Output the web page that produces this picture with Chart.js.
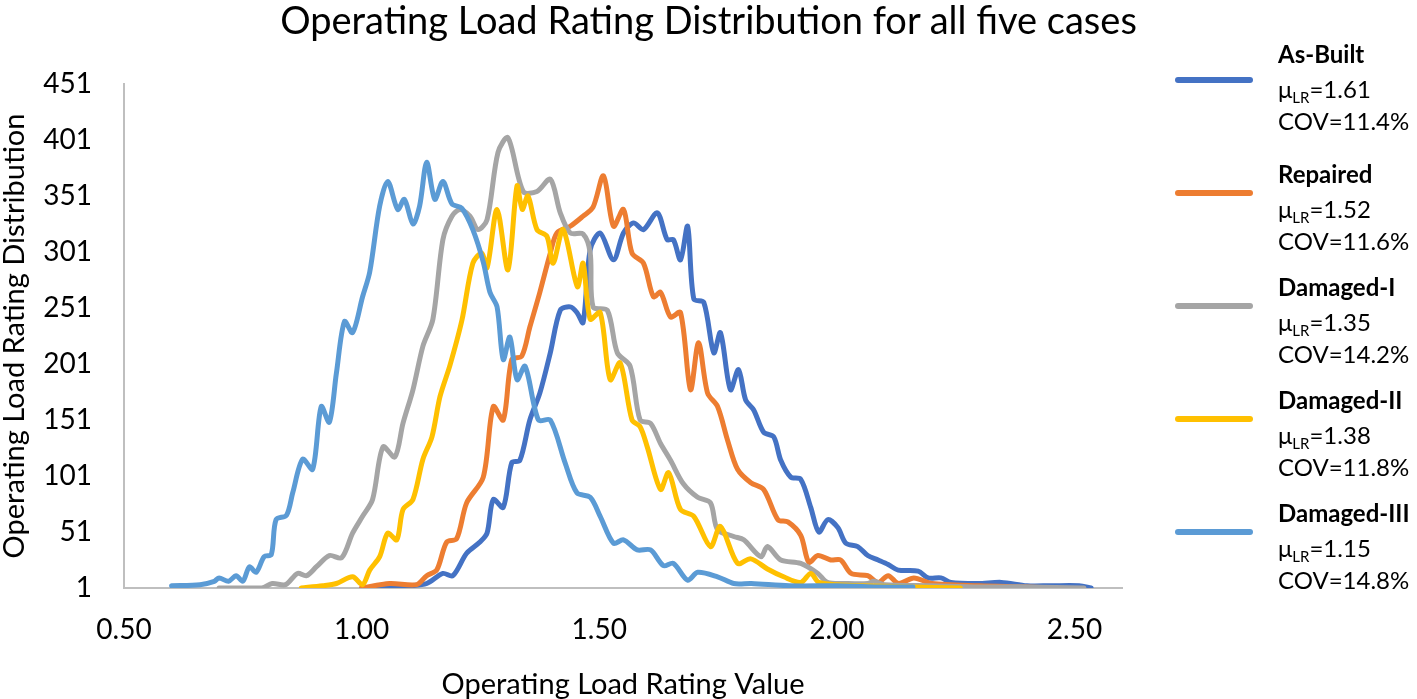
<!DOCTYPE html>
<html><head><meta charset="utf-8">
<script src="https://cdn.jsdelivr.net/npm/chart.js@4.4.1/dist/chart.umd.min.js"></script>
<style>
html,body{margin:0;padding:0;background:#fff;}
#wrap{position:relative;width:1417px;height:699px;overflow:hidden;font-family:Lato,'Open Sans',sans-serif;color:#000;}
canvas{position:absolute;left:0;top:0;}
#title{position:absolute;left:0;width:1417px;top:-3px;text-align:center;font-size:38px;line-height:44px;white-space:nowrap;}
.lg{position:absolute;left:1175px;width:78px;height:6px;border-radius:3px;}
.lt{position:absolute;left:1278px;font-size:24px;line-height:30px;white-space:nowrap;}
.lt b{font-weight:700;}
.lt sub{font-size:15px;vertical-align:-5px;line-height:0;}
</style></head>
<body>
<div id="wrap">
<canvas id="c" width="1417" height="699"></canvas>
<div id="title">Operating Load Rating Distribution for all five cases</div>
<div id="legend"></div>
</div>
<script>
// ---- data ----
const seriesNames = ['As-Built','Repaired','Damaged-I','Damaged-II','Damaged-III'];
const seriesMeans = ['1.61','1.52','1.35','1.38','1.15'];
const seriesCOVs  = ['11.4%','11.6%','14.2%','11.8%','14.8%'];
const xTickValues = [0.5,1.0,1.5,2.0,2.5];
const yTickValues = [1,51,101,151,201,251,301,351,401,451];

const asBuiltX = [1.00,1.101,1.137,1.171,1.192,1.221,1.249,1.264,1.277,1.298,1.316,1.333,1.354,1.375,1.397,1.418,1.439,1.453,1.466,1.481,1.502,1.53,1.551,1.572,1.593,1.622,1.643,1.656,1.671,1.686,1.699,1.72,1.741,1.755,1.776,1.793,1.808,1.825,1.846,1.867,1.882,1.903,1.924,1.945,1.962,1.981,2.002,2.019,2.044,2.065,2.087,2.108,2.129,2.171,2.192,2.219,2.24,2.297,2.346,2.40,2.45,2.51,2.535];
const asBuiltY = [1,3,5,14,12,32,42,50,80,73,113,115,151,175,211,249,252,247,238,303,318,294,318,327,321,336,312,312,294,324,259,256,211,229,178,196,169,160,140,136,115,100,98,73,51,62,55,41,38,30,26,22,17,16,10,10,6,5,6,3,3,3,1];

const repairedX = [1.00,1.059,1.116,1.137,1.158,1.179,1.2,1.221,1.256,1.277,1.298,1.316,1.337,1.354,1.375,1.397,1.411,1.439,1.466,1.487,1.509,1.53,1.551,1.569,1.593,1.614,1.629,1.65,1.671,1.692,1.709,1.728,1.749,1.77,1.791,1.819,1.846,1.876,1.897,1.924,1.941,1.96,1.987,2.008,2.03,2.065,2.087,2.108,2.13,2.162,2.2,2.3,2.4,2.46];
const repairedY = [1,5,4,12,17,42,45,77,100,163,151,205,208,234,265,300,318,324,333,341,369,324,339,300,291,261,265,243,247,178,220,175,163,133,107,95,89,62,60,48,24,30,26,26,14,12,6,12,5,10,5,3,2,1];

const damaged1X = [0.70,0.79,0.812,0.84,0.865,0.884,0.905,0.932,0.958,0.981,1.002,1.023,1.045,1.07,1.087,1.108,1.129,1.15,1.171,1.19,1.207,1.228,1.245,1.264,1.287,1.308,1.34,1.369,1.397,1.418,1.439,1.466,1.481,1.487,1.517,1.538,1.565,1.586,1.608,1.629,1.65,1.677,1.707,1.734,1.749,1.783,1.804,1.84,1.854,1.882,1.924,1.96,1.98,2.02,2.065,2.078,2.10,2.2,2.3,2.4,2.52];
const damaged1Y = [1,1,5,4,14,12,20,30,28,50,65,80,127,118,148,178,217,241,312,333,339,333,321,330,390,403,355,355,366,336,318,317,300,252,249,211,199,151,148,130,115,94,82,77,53,47,44,29,38,26,23,14,6,5,5,7,4,3,2,2,1];

const damaged2X = [0.873,0.918,0.947,0.981,1.002,1.017,1.038,1.055,1.074,1.087,1.108,1.129,1.148,1.165,1.186,1.211,1.234,1.253,1.264,1.285,1.308,1.327,1.338,1.35,1.369,1.39,1.403,1.424,1.454,1.466,1.481,1.502,1.523,1.544,1.569,1.586,1.601,1.629,1.646,1.671,1.699,1.734,1.755,1.791,1.819,1.854,1.888,1.924,1.945,1.962,2.0,2.05,2.15,2.26];
const damaged2Y = [1,3,5,11,4,17,29,50,44,71,80,116,136,172,200,240,291,300,287,339,285,360,339,351,321,315,291,321,270,291,241,247,187,202,151,145,127,89,104,71,65,38,56,23,27,18,11,6,14,6,4,3,2,1];

const damaged3X = [0.60,0.66,0.69,0.70,0.72,0.736,0.75,0.764,0.778,0.795,0.81,0.82,0.842,0.855,0.876,0.897,0.915,0.932,0.947,0.964,0.981,1.002,1.017,1.038,1.055,1.076,1.09,1.108,1.122,1.137,1.154,1.171,1.19,1.211,1.234,1.256,1.27,1.285,1.298,1.312,1.327,1.344,1.372,1.397,1.428,1.453,1.481,1.502,1.53,1.551,1.58,1.608,1.635,1.656,1.686,1.707,1.749,1.783,1.82,1.9,2.0,2.08,2.16];
const damaged3Y = [3,4,7,10,7,12,7,20,15,29,31,62,66,86,116,107,163,149,193,239,229,261,283,342,364,339,348,326,342,381,348,364,344,340,321,292,265,252,205,225,187,199,151,151,113,86,82,65,41,44,35,35,21,23,8,15,11,5,5,3,3,2,2];

// ---- styling ----
const colors = ['#4472C4','#ED7D31','#A5A5A5','#FFC000','#5B9BD5'];
const xs = [asBuiltX, repairedX, damaged1X, damaged2X, damaged3X];
const ys = [asBuiltY, repairedY, damaged1Y, damaged2Y, damaged3Y];

const datasets = seriesNames.map((n,i)=>({
  label:n,
  data: xs[i].map((x,j)=>({x:x,y:ys[i][j]})),
  borderColor: colors[i],
  backgroundColor: colors[i],
  borderWidth: 5,
  pointRadius: 0,
  tension: 0.3,
  fill:false,
  borderCapStyle:'round',
  borderJoinStyle:'round',
  order: seriesNames.length - i
}));

const tickFont = {family:'Lato', size:28};
new Chart(document.getElementById('c'), {
  type:'line',
  data:{datasets},
  options:{
    responsive:false,
    animation:false,
    devicePixelRatio:1,
    layout:{padding:{left:0,top:84,right:295,bottom:0}},
    plugins:{legend:{display:false},tooltip:{enabled:false},title:{display:false}},
    scales:{
      x:{
        type:'linear', min:0.5, max:2.6,
        afterBuildTicks:(s)=>{ s.ticks = xTickValues.map(v=>({value:v})); },
        afterFit:(s)=>{ s.height = 111; },
        grid:{display:false, drawTicks:false},
        border:{display:true, color:'#BFBFBF', width:2},
        ticks:{font:tickFont, color:'#000', padding:25, maxRotation:0, autoSkip:false,
               callback:(v)=>Number(v).toFixed(2)},
        title:{display:true, text:'Operating Load Rating Value', color:'#000',
               font:{family:'Lato', size:29, lineHeight:1.0}, padding:{top:0,bottom:0}}
      },
      y:{
        type:'linear', min:1, max:451,
        afterBuildTicks:(s)=>{ s.ticks = yTickValues.map(v=>({value:v})); },
        afterFit:(s)=>{ s.width = 124; },
        grid:{display:false, drawTicks:false},
        border:{display:true, color:'#BFBFBF', width:2},
        ticks:{font:tickFont, color:'#000', padding:32, autoSkip:false},
        title:{display:true, text:'Operating Load Rating Distribution', color:'#000',
               font:{family:'Lato', size:29, lineHeight:1.0}, padding:{top:0,bottom:0}}
      }
    }
  }
});

// ---- legend ----
const lg = document.getElementById('legend');
const rowShift = [-7,0,0,0,0];
seriesNames.forEach((n,i)=>{
  const L = 80 + 113*i;
  const s = rowShift[i];
  const line = document.createElement('div');
  line.className='lg'; line.style.top=(L-3)+'px'; line.style.background=colors[i];
  lg.appendChild(line);
  const rows = [
    ['<b>'+n+'</b>', L-19+s],
    ['\u03BC<sub>LR</sub>='+seriesMeans[i], L+16+s],
    ['COV='+seriesCOVs[i], L+48+s]
  ];
  rows.forEach(r=>{
    const d=document.createElement('div'); d.className='lt';
    d.innerHTML=r[0]; d.style.top=(r[1]-15)+'px'; lg.appendChild(d);
  });
});
</script>
</body></html>
